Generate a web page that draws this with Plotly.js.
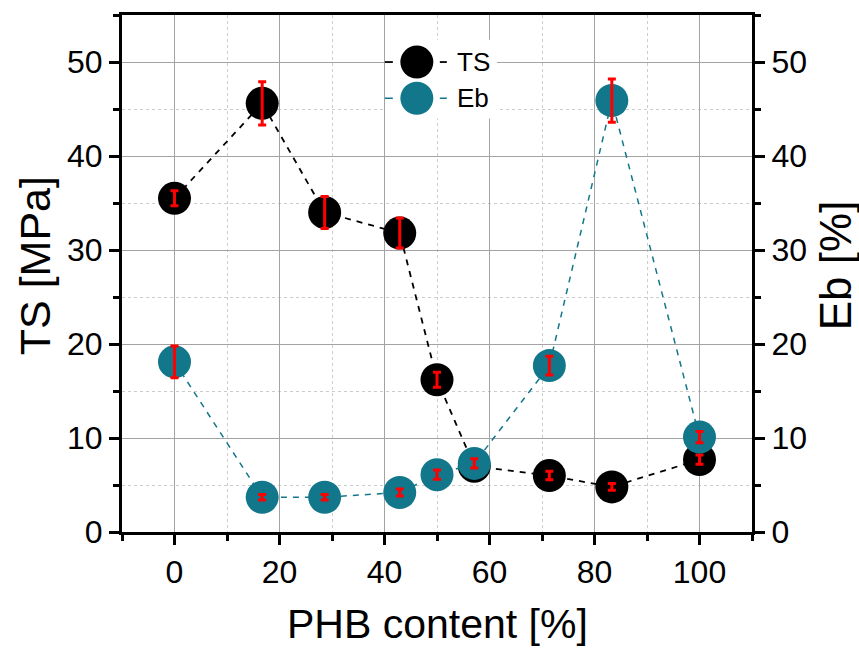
<!DOCTYPE html>
<html>
<head>
<meta charset="utf-8">
<script src="https://cdn.plot.ly/plotly-3.0.1.min.js"></script>
<style>html,body{margin:0;padding:0;background:#fff;}#chart{width:859px;height:649px;}</style>
</head>
<body>
<div id="chart"></div>
<script>
// Data
const phbContent = [0, 16.7, 28.6, 42.9, 50, 57.1, 71.4, 83.3, 100];
const tsValues   = [35.5, 45.6, 34.0, 31.8, 16.2, 7.0, 6.0, 4.8, 7.7];
const tsErrors   = [0.8, 2.3, 1.7, 1.6, 0.8, 0.5, 0.45, 0.35, 0.5];
const ebValues   = [18.1, 3.7, 3.7, 4.2, 6.1, 7.3, 17.7, 45.9, 10.1];
const ebErrors   = [1.7, 0.3, 0.3, 0.37, 0.5, 0.5, 1.0, 2.3, 0.6];
const seriesNames = ['TS', 'Eb'];
const xTicks = [0, 20, 40, 60, 80, 100];
const yTicks = [0, 10, 20, 30, 40, 50];
const axisTitles = {x: 'PHB content [%]', y: 'TS [MPa]', y2: 'Eb [%]'};

const FONT = '"Liberation Sans", Arial, sans-serif';
const TEAL = '#12778a';
const MS = 33;

const traces = [
  {x: phbContent, y: tsValues, name: seriesNames[0], type: 'scatter', mode: 'lines+markers',
   line: {color: '#000', width: 1.8, dash: '6px,6px'},
   marker: {color: '#000', size: MS}, xaxis: 'x', yaxis: 'y', showlegend: false, cliponaxis: false},
  {x: phbContent, y: tsValues, type: 'scatter', mode: 'markers',
   marker: {color: 'rgba(0,0,0,0)', size: 1},
   error_y: {type: 'data', array: tsErrors, visible: true, color: '#ff0000', thickness: 3, width: 4},
   xaxis: 'x', yaxis: 'y', showlegend: false, hoverinfo: 'skip'},
  {x: phbContent, y: ebValues, name: seriesNames[1], type: 'scatter', mode: 'lines+markers',
   line: {color: TEAL, width: 1.5, dash: '6px,6px'},
   marker: {color: TEAL, size: MS}, xaxis: 'x', yaxis: 'y2', showlegend: false, cliponaxis: false},
  {x: phbContent, y: ebValues, type: 'scatter', mode: 'markers',
   marker: {color: 'rgba(0,0,0,0)', size: 1},
   error_y: {type: 'data', array: ebErrors, visible: true, color: '#ff0000', thickness: 3, width: 4},
   xaxis: 'x', yaxis: 'y2', showlegend: false, hoverinfo: 'skip'}
];

// custom legend (large symbols as in the reference)
const legX = 0.468;
const legY = [0.909, 0.839];
const legColors = ['#000', TEAL];
const shapes = [
  {type: 'rect', xref: 'paper', yref: 'paper', x0: 0.418, x1: 0.595, y0: 0.800, y1: 0.952,
   fillcolor: '#fff', line: {width: 0}, layer: 'above'}
];
const annotations = [];
legY.forEach((yy, i) => {
  shapes.push({type: 'circle', xref: 'paper', yref: 'paper', xsizemode: 'pixel', ysizemode: 'pixel',
    xanchor: legX, yanchor: yy, x0: -16.5, x1: 16.5, y0: -16.5, y1: 16.5,
    fillcolor: legColors[i], line: {width: 0}, layer: 'above'});
  shapes.push({type: 'line', xref: 'paper', yref: 'paper', xsizemode: 'pixel', ysizemode: 'pixel',
    xanchor: legX, yanchor: yy, x0: -32, x1: -24, y0: 0, y1: 0,
    line: {color: legColors[i], width: i === 0 ? 1.8 : 1.5}, layer: 'above'});
  shapes.push({type: 'line', xref: 'paper', yref: 'paper', xsizemode: 'pixel', ysizemode: 'pixel',
    xanchor: legX, yanchor: yy, x0: 23, x1: 30, y0: 0, y1: 0,
    line: {color: legColors[i], width: i === 0 ? 1.8 : 1.5}, layer: 'above'});
  annotations.push({xref: 'paper', yref: 'paper', x: 0.529, y: yy, xanchor: 'left', yanchor: 'middle',
    text: seriesNames[i], showarrow: false, font: {family: FONT, size: 26, color: '#000'}});
});

// axis titles placed as in the reference
annotations.push({xref: 'paper', yref: 'paper', x: 0.5, y: 0, yshift: -92, xanchor: 'center', yanchor: 'middle',
  text: axisTitles.x, showarrow: false, font: {family: FONT, size: 41, color: '#000'}});
annotations.push({xref: 'paper', yref: 'paper', x: 0, xshift: -87, y: 0.514, xanchor: 'center', yanchor: 'middle',
  text: axisTitles.y, textangle: -90, showarrow: false, font: {family: FONT, size: 43, color: '#000'}});
annotations.push({xref: 'paper', yref: 'paper', x: 1, xshift: 83, y: 0.516, xanchor: 'center', yanchor: 'middle',
  text: axisTitles.y2, textangle: -90, showarrow: false, font: {family: FONT, size: 44, color: '#000'}});

const commonAxis = {
  showline: true, linecolor: '#000', linewidth: 3,
  ticks: 'outside', ticklen: 10, tickwidth: 3, tickcolor: '#000',
  tickfont: {family: FONT, size: 32, color: '#000'},
  zeroline: false
};

const layout = {
  width: 859, height: 649,
  margin: {l: 122, r: 107, t: 15, b: 117, pad: 0},
  paper_bgcolor: '#fff', plot_bgcolor: '#fff',
  font: {family: FONT, color: '#000'},
  showlegend: false,
  xaxis: Object.assign({}, commonAxis, {
    range: [-10, 110], tickvals: xTicks, ticktext: xTicks.map(String), mirror: true,
    showgrid: true, gridcolor: '#a3a3a3', gridwidth: 1,
    minor: {dtick: 10, tick0: 0, ticks: 'outside', ticklen: 6, tickwidth: 3, tickcolor: '#000',
            showgrid: true, gridcolor: '#cccccc', gridwidth: 1, griddash: 'dot'}
  }),
  yaxis: Object.assign({}, commonAxis, {
    range: [0, 55], tickvals: yTicks, ticktext: yTicks.map(String),
    showgrid: true, gridcolor: '#a3a3a3', gridwidth: 1,
    minor: {dtick: 5, tick0: 0, ticks: 'outside', ticklen: 6, tickwidth: 3, tickcolor: '#000',
            showgrid: true, gridcolor: '#cccccc', gridwidth: 1, griddash: 'dot'}
  }),
  yaxis2: Object.assign({}, commonAxis, {
    range: [0, 55], tickvals: yTicks, ticktext: yTicks.map(String),
    overlaying: 'y', side: 'right', anchor: 'x', showgrid: false,
    minor: {dtick: 5, tick0: 0, ticks: 'outside', ticklen: 6, tickwidth: 3, tickcolor: '#000', showgrid: false}
  }),
  shapes: shapes,
  annotations: annotations
};

Plotly.newPlot('chart', traces, layout, {displayModeBar: false, staticPlot: true});
</script>
</body>
</html>
